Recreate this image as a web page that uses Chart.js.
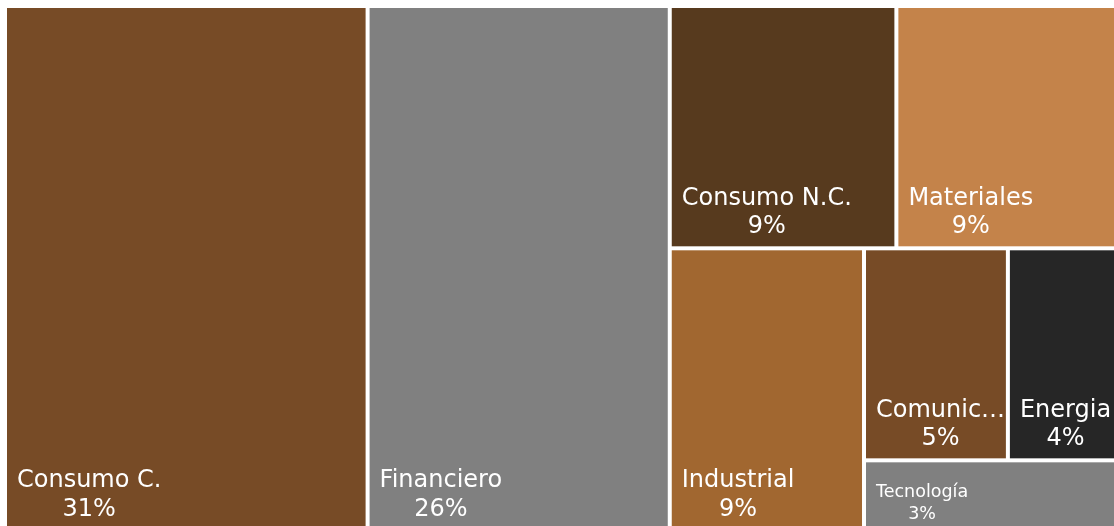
<!DOCTYPE html>
<html><head><meta charset="utf-8">
<script src="https://cdn.jsdelivr.net/npm/chart.js@4.4.0/dist/chart.umd.min.js"></script>
<style>
html,body{margin:0;padding:0;background:#fff;overflow:hidden;width:1114px;height:526px}
#wrap{position:absolute;left:0;top:0;width:1125px;height:533px}
</style></head>
<body><div id="wrap"><canvas id="c"></canvas></div>
<script>
const categories = ['Consumo C.', 'Financiero', 'Consumo N.C.', 'Materiales', 'Industrial', 'Comunicaciones', 'Energia', 'Tecnología'];
const weights = [31.2, 26.0, 9, 9, 9, 5, 4, 3];
const palette = ['#774B26', '#808080', '#573A1E', '#C4834A', '#A16730', '#774B26', '#262626', '#808080'];

function worst(row, side) {
  const s = row.reduce((a, b) => a + b, 0);
  const mx = Math.max(...row), mn = Math.min(...row);
  return Math.max(side * side * mx / (s * s), (s * s) / (side * side * mn));
}
function squarify(vals, W, H) {
  const total = vals.reduce((a, b) => a + b, 0);
  const areas = vals.map(v => v / total * W * H);
  const res = [];
  let x = 0, y = 0, w = W, h = H, i = 0;
  while (i < areas.length) {
    const side = Math.min(w, h);
    let row = [areas[i]], j = i + 1;
    while (j < areas.length) {
      const next = row.concat(areas[j]);
      if (worst(next, side) <= worst(row, side)) { row = next; j++; } else break;
    }
    const s = row.reduce((a, b) => a + b, 0);
    if (w >= h) {
      const cw = s / h; let cy = y;
      row.forEach(a => { const ch = a / cw; res.push({x, y: cy, w: cw, h: ch}); cy += ch; });
      x += cw; w -= cw;
    } else {
      const rh = s / w; let cx = x;
      row.forEach(a => { const rw = a / rh; res.push({x: cx, y, w: rw, h: rh}); cx += rw; });
      y += rh; h -= rh;
    }
    i = j;
  }
  return res;
}

const treemapPlugin = {
  id: 'treemap',
  afterDatasetsDraw(chart) {
    const {ctx, chartArea, scales} = chart;
    const xs = scales.x, ys = scales.y;
    const aspect = chartArea.width / chartArea.height;
    const cells = squarify(weights, aspect, 1);
    ctx.save();
    cells.forEach((c, k) => {
      const x0 = xs.getPixelForValue(c.x / aspect), x1 = xs.getPixelForValue((c.x + c.w) / aspect);
      const y0 = ys.getPixelForValue(c.y), y1 = ys.getPixelForValue(c.y + c.h);
      const L = x0 + 2, T = y0 + 2, R = x1 - 2, B = y1 - 2;
      ctx.fillStyle = palette[k];
      ctx.fillRect(L, T, R - L, B - T);
      const fs = Math.min(24, (B - T) / 3.8);
      ctx.font = fs.toFixed(1) + 'px "DejaVu Sans"';
      ctx.fillStyle = '#ffffff';
      const maxW = (R - L) - 6;
      let name = categories[k];
      if (ctx.measureText(name).width > maxW) {
        while (name.length > 1 && ctx.measureText(name + '…').width > maxW) name = name.slice(0, -1);
        name = name + '…';
      }
      const pct = Math.round(weights[k]) + '%';
      const bw = Math.max(ctx.measureText(name).width, ctx.measureText(pct).width);
      const cx = L + 10 + bw / 2;
      const yb2 = B - 0.55 * fs;
      const yb1 = yb2 - (fs + 4.5);
      ctx.textAlign = 'center';
      ctx.textBaseline = 'alphabetic';
      ctx.fillText(name, cx, yb1);
      ctx.fillText(pct, cx, yb2);
    });
    ctx.restore();
  }
};

new Chart(document.getElementById('c'), {
  type: 'scatter',
  data: { datasets: [{ data: [] }] },
  options: {
    animation: false,
    responsive: true,
    maintainAspectRatio: false,
    layout: { padding: { left: 5, top: 6, right: 2, bottom: 2 } },
    scales: {
      x: { type: 'linear', min: 0, max: 1, display: false },
      y: { type: 'linear', min: 0, max: 1, reverse: true, display: false }
    },
    plugins: { legend: { display: false }, tooltip: { enabled: false } }
  },
  plugins: [treemapPlugin]
});
</script>
</body></html>
